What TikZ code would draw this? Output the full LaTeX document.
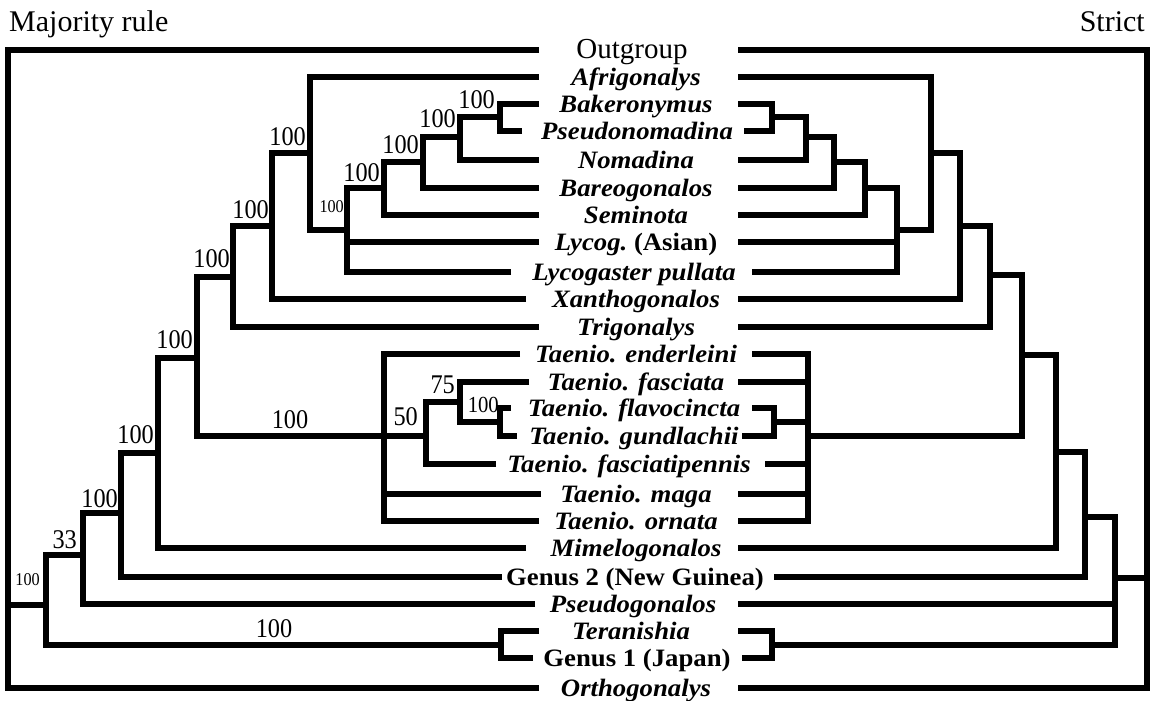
\documentclass[tikz,border=0pt]{standalone}
\usepackage{fontspec}
\setmainfont{Liberation Serif}
\newfontfamily\numf{Liberation Serif}[FakeStretch=0.9]
\newfontfamily\labf{Liberation Serif}[FakeStretch=1.07]
\begin{document}
\begin{tikzpicture}[x=1pt,y=-1pt,
  br/.style={draw, line width=6.5pt, line join=miter},
  tax/.style={anchor=base, inner sep=0pt, font=\fontsize{25}{28}\labf\bfseries\itshape},
  taxr/.style={anchor=base, inner sep=0pt, font=\fontsize{25}{28}\labf\bfseries},
  sup/.style={anchor=base east, inner sep=0pt, font=\fontsize{27}{29}\numf},
  supc/.style={anchor=base, inner sep=0pt, font=\fontsize{27}{29}\numf},
  supm/.style={anchor=base east, inner sep=0pt, font=\fontsize{23}{25}\numf},
  sups/.style={anchor=base east, inner sep=0pt, font=\fontsize{18}{20}\numf},
  head/.style={inner sep=0pt, font=\fontsize{30}{32}\selectfont}]
\useasboundingbox (0,0) rectangle (1152,701);

% headers
\node[head, anchor=base west] (hl) at (9,32) {Majority rule};
\node[head, anchor=base east] (hr) at (1145,32) {Strict};

% taxon labels
\node[anchor=base, inner sep=0pt, font=\fontsize{29}{32}\selectfont] (t0) at (632,59) {Outgroup};
\node[tax] (t1) at (636,85.5) {Afrigonalys};
\node[tax] (t2) at (636,113) {Bakeronymus};
\node[tax] (t3) at (637,139.5) {Pseudonomadina};
\node[tax] (t4) at (636,168.5) {Nomadina};
\node[tax] (t5) at (636,196.5) {Bareogonalos};
\node[tax] (t6) at (636,223.5) {Seminota};
\node[tax] (t7) at (636,250.5) {Lycog.\ \upshape(Asian)};
\node[tax] (t8) at (634,280.5) {Lycogaster pullata};
\node[tax] (t9) at (636,307.5) {Xanthogonalos};
\node[tax] (t10) at (636,335.5) {Trigonalys};
\node[tax] (t11) at (636,362.5) {Taenio. enderleini};
\node[tax] (t12) at (636,390.5) {Taenio. fasciata};
\node[tax] (t13) at (634,416.5) {Taenio. flavocincta};
\node[tax] (t14) at (634,444.5) {Taenio. gundlachii};
\node[tax] (t15) at (629,472.5) {Taenio. fasciatipennis};
\node[tax] (t16) at (636,502.5) {Taenio. maga};
\node[tax] (t17) at (636,529.5) {Taenio. ornata};
\node[tax] (t18) at (636,556.5) {Mimelogonalos};
\node[taxr] (t19) at (635,585.5) {Genus 2 (New Guinea)};
\node[tax] (t20) at (633,612.5) {Pseudogonalos};
\node[tax] (t21) at (631,639.5) {Teranishia};
\node[taxr] (t22) at (637,666.5) {Genus 1 (Japan)};
\node[tax] (t23) at (636,696) {Orthogonalys};

% ---------------- left tree (majority rule) ----------------
\coordinate (Lroot) at (8,605);
\coordinate (Lin) at (46,605);
\coordinate (LTer) at (501,645);
\coordinate (L33) at (83,555);
\coordinate (L121) at (121,513);
\coordinate (L158) at (158,453);
\coordinate (L197) at (197,358);
\coordinate (LTae) at (384,436);
\coordinate (L50) at (426,436);
\coordinate (L75) at (460,402);
\coordinate (LFl) at (500,422);
\coordinate (L233) at (233,277);
\coordinate (L272) at (272,226);
\coordinate (L310) at (310,153);
\coordinate (L347) at (347,230);
\coordinate (L384) at (384,188);
\coordinate (L423) at (423,162);
\coordinate (L460) at (460,137);
\coordinate (L500) at (500,117);

\coordinate (a0) at (539,50);
\coordinate (a1) at (539,77);
\coordinate (a2) at (539,104);
\coordinate (a3) at (522,131);
\coordinate (a4) at (539,160);
\coordinate (a5) at (539,188);
\coordinate (a6) at (539,215);
\coordinate (a7) at (539,242);
\coordinate (a8) at (511,272);
\coordinate (a9) at (526,299);
\coordinate (a10) at (539,327);
\coordinate (a11) at (520,354);
\coordinate (a12) at (529,382);
\coordinate (a13) at (511,408);
\coordinate (a14) at (517,436);
\coordinate (a15) at (496,464);
\coordinate (a16) at (541,494);
\coordinate (a17) at (539,521);
\coordinate (a18) at (526,548);
\coordinate (a19) at (502,577);
\coordinate (a20) at (535,604);
\coordinate (a21) at (539,631);
\coordinate (a22) at (533,658);
\coordinate (a23) at (539,688);

\draw[br] (a0) -| (Lroot);
\draw[br] (a23) -| (Lroot);
\draw[br] (Lin) -| (Lroot);
\draw[br] (L33) -| (Lin);
\draw[br] (LTer) -| (Lin);
\draw[br] (a21) -| (LTer);
\draw[br] (a22) -| (LTer);
\draw[br] (L121) -| (L33);
\draw[br] (a20) -| (L33);
\draw[br] (L158) -| (L121);
\draw[br] (a19) -| (L121);
\draw[br] (L197) -| (L158);
\draw[br] (a18) -| (L158);
\draw[br] (L233) -| (L197);
\draw[br] (LTae) -| (L197);
\draw[br] (a11) -| (LTae);
\draw[br] (L50) -| (LTae);
\draw[br] (a16) -| (LTae);
\draw[br] (a17) -| (LTae);
\draw[br] (L75) -| (L50);
\draw[br] (a15) -| (L50);
\draw[br] (a12) -| (L75);
\draw[br] (LFl) -| (L75);
\draw[br] (a13) -| (LFl);
\draw[br] (a14) -| (LFl);
\draw[br] (L272) -| (L233);
\draw[br] (a10) -| (L233);
\draw[br] (L310) -| (L272);
\draw[br] (a9) -| (L272);
\draw[br] (a1) -| (L310);
\draw[br] (L347) -| (L310);
\draw[br] (L384) -| (L347);
\draw[br] (a7) -| (L347);
\draw[br] (a8) -| (L347);
\draw[br] (L423) -| (L384);
\draw[br] (a6) -| (L384);
\draw[br] (L460) -| (L423);
\draw[br] (a5) -| (L423);
\draw[br] (L500) -| (L460);
\draw[br] (a4) -| (L460);
\draw[br] (a2) -| (L500);
\draw[br] (a3) -| (L500);

% support values
\node[sup] (s500) at (495,108) {100};
\node[sup] (s460) at (456,128) {100};
\node[sup] (s423) at (419,153) {100};
\node[sup] (s384) at (380,181) {100};
\node[sups] (s347) at (344,212) {100};
\node[sup] (s310) at (306,145) {100};
\node[sup] (s272) at (269,218) {100};
\node[sup] (s233) at (230,267) {100};
\node[sup] (s197) at (193,348) {100};
\node[supc] (slong) at (290,428) {100};
\node[sup] (s158) at (154,443) {100};
\node[sup] (s121) at (118,507) {100};
\node[sup] (s33) at (77,548) {33};
\node[sups] (sin) at (40,585) {100};
\node[supc] (ster) at (274,637) {100};
\node[sup] (s50) at (418,425) {50};
\node[sup] (s75) at (455,393) {75};
\node[supm] (sfl) at (499,412) {100};

% ---------------- right tree (strict) ----------------
\coordinate (Rroot) at (1147,578);
\coordinate (R1115) at (1115,578);
\coordinate (RTer) at (772,645);
\coordinate (R1085) at (1085,517);
\coordinate (R1056) at (1056,452);
\coordinate (R1022) at (1022,355);
\coordinate (RTae) at (808,436);
\coordinate (RFl) at (774,422);
\coordinate (R990) at (990,275);
\coordinate (R960) at (960,226);
\coordinate (R931) at (931,153);
\coordinate (R897) at (897,230);
\coordinate (R865) at (865,188);
\coordinate (R834) at (834,162);
\coordinate (R806) at (806,137);
\coordinate (R772) at (772,117);

\coordinate (b0) at (738,50);
\coordinate (b1) at (738,77);
\coordinate (b2) at (738,104);
\coordinate (b3) at (744,131);
\coordinate (b4) at (738,160);
\coordinate (b5) at (738,188);
\coordinate (b6) at (738,215);
\coordinate (b7) at (738,242);
\coordinate (b8) at (752,272);
\coordinate (b9) at (738,299);
\coordinate (b10) at (738,327);
\coordinate (b11) at (752,354);
\coordinate (b12) at (738,382);
\coordinate (b13) at (752,408);
\coordinate (b14) at (742,436);
\coordinate (b15) at (765,464);
\coordinate (b16) at (738,494);
\coordinate (b17) at (738,521);
\coordinate (b18) at (738,548);
\coordinate (b19) at (774,577);
\coordinate (b20) at (738,604);
\coordinate (b21) at (738,631);
\coordinate (b22) at (742,658);
\coordinate (b23) at (738,688);

\draw[br] (b0) -| (Rroot);
\draw[br] (b23) -| (Rroot);
\draw[br] (R1115) -| (Rroot);
\draw[br] (R1085) -| (R1115);
\draw[br] (b20) -| (R1115);
\draw[br] (RTer) -| (R1115);
\draw[br] (b21) -| (RTer);
\draw[br] (b22) -| (RTer);
\draw[br] (R1056) -| (R1085);
\draw[br] (b19) -| (R1085);
\draw[br] (R1022) -| (R1056);
\draw[br] (b18) -| (R1056);
\draw[br] (R990) -| (R1022);
\draw[br] (RTae) -| (R1022);
\draw[br] (b11) -| (RTae);
\draw[br] (b12) -| (RTae);
\draw[br] (RFl) -| (RTae);
\draw[br] (b15) -| (RTae);
\draw[br] (b16) -| (RTae);
\draw[br] (b17) -| (RTae);
\draw[br] (b13) -| (RFl);
\draw[br] (b14) -| (RFl);
\draw[br] (R960) -| (R990);
\draw[br] (b10) -| (R990);
\draw[br] (R931) -| (R960);
\draw[br] (b9) -| (R960);
\draw[br] (b1) -| (R931);
\draw[br] (R897) -| (R931);
\draw[br] (R865) -| (R897);
\draw[br] (b7) -| (R897);
\draw[br] (b8) -| (R897);
\draw[br] (R834) -| (R865);
\draw[br] (b6) -| (R865);
\draw[br] (R806) -| (R834);
\draw[br] (b5) -| (R834);
\draw[br] (R772) -| (R806);
\draw[br] (b4) -| (R806);
\draw[br] (b2) -| (R772);
\draw[br] (b3) -| (R772);
\end{tikzpicture}
\end{document}
